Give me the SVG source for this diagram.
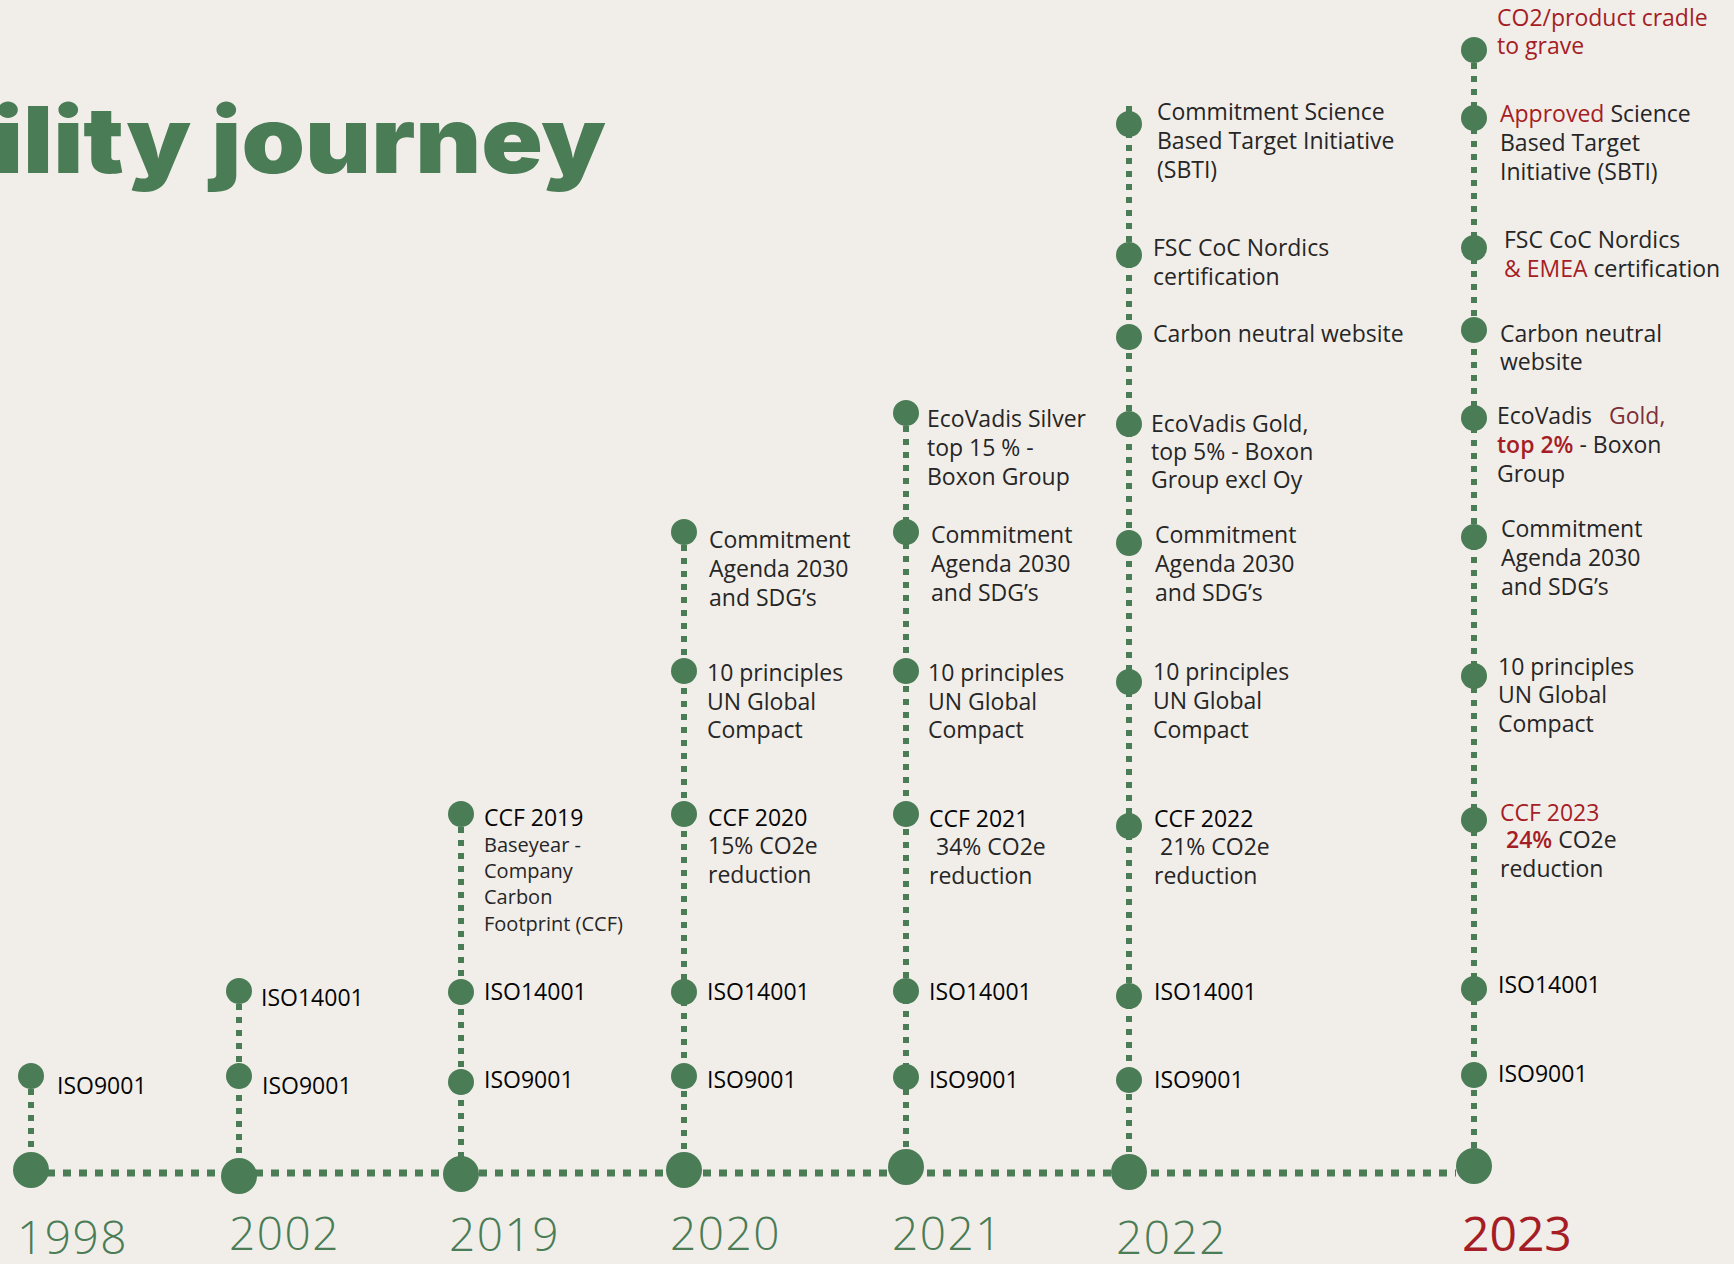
<svg xmlns="http://www.w3.org/2000/svg" width="1734" height="1264" viewBox="0 0 1734 1264">
<style>
.dot{fill:#4A7C55}
.v{stroke:#4A7C55;stroke-width:6;stroke-dasharray:6 7;fill:none}
.h{stroke:#4A7C55;stroke-width:7;stroke-dasharray:8 8;fill:none}
.t{font-family:"Open Sans","Liberation Sans",sans-serif;font-size:23px;font-weight:400;fill:#262626}
.iso{font-weight:400;fill:#050505}
.ccf{font-weight:500;fill:#050505}
.sm{font-size:20px}
.red{fill:#A51D25;font-weight:500}
.b{font-weight:600}
.dred{fill:#7E2F36}
.yr{font-family:"Open Sans","Liberation Sans",sans-serif;font-size:46px;font-weight:300;fill:#4A7C55;letter-spacing:1.5px}
.yred{fill:#A51D25;font-size:48px;font-weight:400;letter-spacing:0}
.title{font-family:Inter,"Liberation Sans",sans-serif;font-weight:900;font-size:92px;fill:#4A7C55}
</style>
<rect width="1734" height="1264" fill="#F1EEEA"/>
<text class="title" x="-7" y="173" textLength="613" lengthAdjust="spacingAndGlyphs">ility journey</text>

<g id="connectors">
<line class="h" x1="31" y1="1173" x2="1456" y2="1173"/>
<line class="v" x1="31" y1="1076" x2="31" y2="1170"/>
<line class="v" x1="239" y1="991" x2="239" y2="1176"/>
<line class="v" x1="461" y1="814" x2="461" y2="1174"/>
<line class="v" x1="684" y1="532" x2="684" y2="1170"/>
<line class="v" x1="906" y1="413" x2="906" y2="1167"/>
<line class="v" x1="1129" y1="106" x2="1129" y2="1172"/>
<line class="v" x1="1474" y1="50" x2="1474" y2="1166"/>
</g>

<g id="y1998">
<circle class="dot" cx="31" cy="1170" r="18"/>
<text class="yr" x="17" y="1254">1998</text>
</g>
<g id="y1998-iso9001"><circle class="dot" cx="31" cy="1076" r="13"/><text class="t iso" x="57" y="1094">ISO9001</text></g>

<g id="y2002">
<circle class="dot" cx="239" cy="1176" r="18"/>
<text class="yr" x="229" y="1250">2002</text>
</g>
<g id="y2002-iso14001"><circle class="dot" cx="239" cy="991" r="13"/><text class="t iso" x="261" y="1006">ISO14001</text></g>
<g id="y2002-iso9001"><circle class="dot" cx="239" cy="1076" r="13"/><text class="t iso" x="262" y="1094">ISO9001</text></g>

<g id="y2019">
<circle class="dot" cx="461" cy="1174" r="18"/>
<text class="yr" x="449" y="1251">2019</text>
</g>
<g id="y2019-ccf"><circle class="dot" cx="461" cy="814" r="13"/>
<text class="t"><tspan class="ccf" x="484" y="826">CCF 2019</tspan><tspan class="sm" x="484" y="852">Baseyear -</tspan><tspan class="sm" x="484" y="878">Company</tspan><tspan class="sm" x="484" y="904">Carbon</tspan><tspan class="sm" x="484" y="931">Footprint (CCF)</tspan></text>
</g>
<g id="y2019-iso14001"><circle class="dot" cx="461" cy="992" r="13"/><text class="t iso" x="484" y="1000">ISO14001</text></g>
<g id="y2019-iso9001"><circle class="dot" cx="461" cy="1082" r="13"/><text class="t iso" x="484" y="1088">ISO9001</text></g>

<g id="y2020">
<circle class="dot" cx="684" cy="1170" r="18"/>
<text class="yr" x="670" y="1250">2020</text>
</g>
<g id="y2020-agenda"><circle class="dot" cx="684" cy="532" r="13"/>
<text class="t"><tspan x="709" y="548">Commitment</tspan><tspan x="709" y="577">Agenda 2030</tspan><tspan x="709" y="606">and SDG’s</tspan></text></g>
<g id="y2020-ungc"><circle class="dot" cx="684" cy="671" r="13"/>
<text class="t"><tspan x="707" y="681">10 principles</tspan><tspan x="707" y="710">UN Global</tspan><tspan x="707" y="738">Compact</tspan></text></g>
<g id="y2020-ccf"><circle class="dot" cx="684" cy="814" r="13"/>
<text class="t"><tspan class="ccf" x="708" y="826">CCF 2020</tspan><tspan x="708" y="854">15% CO2e</tspan><tspan x="708" y="883">reduction</tspan></text></g>
<g id="y2020-iso14001"><circle class="dot" cx="684" cy="992" r="13"/><text class="t iso" x="707" y="1000">ISO14001</text></g>
<g id="y2020-iso9001"><circle class="dot" cx="684" cy="1076" r="13"/><text class="t iso" x="707" y="1088">ISO9001</text></g>

<g id="y2021">
<circle class="dot" cx="906" cy="1167" r="18"/>
<text class="yr" x="892" y="1250">2021</text>
</g>
<g id="y2021-ecovadis"><circle class="dot" cx="906" cy="413" r="13"/>
<text class="t"><tspan x="927" y="427">EcoVadis Silver</tspan><tspan x="927" y="456">top 15 % -</tspan><tspan x="927" y="485">Boxon Group</tspan></text></g>
<g id="y2021-agenda"><circle class="dot" cx="906" cy="532" r="13"/>
<text class="t"><tspan x="931" y="543">Commitment</tspan><tspan x="931" y="572">Agenda 2030</tspan><tspan x="931" y="601">and SDG’s</tspan></text></g>
<g id="y2021-ungc"><circle class="dot" cx="906" cy="671" r="13"/>
<text class="t"><tspan x="928" y="681">10 principles</tspan><tspan x="928" y="710">UN Global</tspan><tspan x="928" y="738">Compact</tspan></text></g>
<g id="y2021-ccf"><circle class="dot" cx="906" cy="814" r="13"/>
<text class="t"><tspan class="ccf" x="929" y="827">CCF 2021</tspan><tspan x="936" y="855">34% CO2e</tspan><tspan x="929" y="884">reduction</tspan></text></g>
<g id="y2021-iso14001"><circle class="dot" cx="906" cy="991" r="13"/><text class="t iso" x="929" y="1000">ISO14001</text></g>
<g id="y2021-iso9001"><circle class="dot" cx="906" cy="1077" r="13"/><text class="t iso" x="929" y="1088">ISO9001</text></g>

<g id="y2022">
<circle class="dot" cx="1129" cy="1172" r="18"/>
<text class="yr" x="1116" y="1254">2022</text>
</g>
<g id="y2022-sbti"><circle class="dot" cx="1129" cy="124" r="13"/>
<text class="t"><tspan x="1157" y="120">Commitment Science</tspan><tspan x="1157" y="149">Based Target Initiative</tspan><tspan x="1157" y="178">(SBTI)</tspan></text></g>
<g id="y2022-fsc"><circle class="dot" cx="1129" cy="255" r="13"/>
<text class="t"><tspan x="1153" y="256">FSC CoC Nordics</tspan><tspan x="1153" y="285">certification</tspan></text></g>
<g id="y2022-web"><circle class="dot" cx="1129" cy="337" r="13"/>
<text class="t" x="1153" y="342">Carbon neutral website</text></g>
<g id="y2022-ecovadis"><circle class="dot" cx="1129" cy="424" r="13"/>
<text class="t"><tspan x="1151" y="432">EcoVadis Gold,</tspan><tspan x="1151" y="460">top 5% - Boxon</tspan><tspan x="1151" y="488">Group excl Oy</tspan></text></g>
<g id="y2022-agenda"><circle class="dot" cx="1129" cy="543" r="13"/>
<text class="t"><tspan x="1155" y="543">Commitment</tspan><tspan x="1155" y="572">Agenda 2030</tspan><tspan x="1155" y="601">and SDG’s</tspan></text></g>
<g id="y2022-ungc"><circle class="dot" cx="1129" cy="682" r="13"/>
<text class="t"><tspan x="1153" y="680">10 principles</tspan><tspan x="1153" y="709">UN Global</tspan><tspan x="1153" y="738">Compact</tspan></text></g>
<g id="y2022-ccf"><circle class="dot" cx="1129" cy="826" r="13"/>
<text class="t"><tspan class="ccf" x="1154" y="827">CCF 2022</tspan><tspan x="1160" y="855">21% CO2e</tspan><tspan x="1154" y="884">reduction</tspan></text></g>
<g id="y2022-iso14001"><circle class="dot" cx="1129" cy="996" r="13"/><text class="t iso" x="1154" y="1000">ISO14001</text></g>
<g id="y2022-iso9001"><circle class="dot" cx="1129" cy="1080" r="13"/><text class="t iso" x="1154" y="1088">ISO9001</text></g>

<g id="y2023">
<circle class="dot" cx="1474" cy="1166" r="18"/>
<text class="yr yred" x="1462" y="1251">2023</text>
</g>
<g id="y2023-co2"><circle class="dot" cx="1474" cy="50" r="13"/>
<text class="t red"><tspan x="1497" y="26">CO2/product cradle</tspan><tspan x="1497" y="54">to grave</tspan></text></g>
<g id="y2023-sbti"><circle class="dot" cx="1474" cy="118" r="13"/>
<text class="t"><tspan x="1500" y="122"><tspan class="red">Approved</tspan> Science</tspan><tspan x="1500" y="151">Based Target</tspan><tspan x="1500" y="180">Initiative (SBTI)</tspan></text></g>
<g id="y2023-fsc"><circle class="dot" cx="1474" cy="248" r="13"/>
<text class="t"><tspan x="1504" y="248">FSC CoC Nordics</tspan><tspan x="1504" y="277"><tspan class="red">&amp; EMEA</tspan> certification</tspan></text></g>
<g id="y2023-web"><circle class="dot" cx="1474" cy="330" r="13"/>
<text class="t"><tspan x="1500" y="342">Carbon neutral</tspan><tspan x="1500" y="370">website</tspan></text></g>
<g id="y2023-ecovadis"><circle class="dot" cx="1474" cy="418" r="13"/>
<text class="t"><tspan x="1497" y="424">EcoVadis</tspan><tspan class="dred" x="1609" y="424">Gold,</tspan><tspan x="1497" y="453"><tspan class="red b">top 2%</tspan> - Boxon</tspan><tspan x="1497" y="482">Group</tspan></text></g>
<g id="y2023-agenda"><circle class="dot" cx="1474" cy="537" r="13"/>
<text class="t"><tspan x="1501" y="537">Commitment</tspan><tspan x="1501" y="566">Agenda 2030</tspan><tspan x="1501" y="595">and SDG’s</tspan></text></g>
<g id="y2023-ungc"><circle class="dot" cx="1474" cy="676" r="13"/>
<text class="t"><tspan x="1498" y="675">10 principles</tspan><tspan x="1498" y="703">UN Global</tspan><tspan x="1498" y="732">Compact</tspan></text></g>
<g id="y2023-ccf"><circle class="dot" cx="1474" cy="820" r="13"/>
<text class="t"><tspan class="red" x="1500" y="821">CCF 2023</tspan><tspan x="1506" y="848"><tspan class="red b">24%</tspan> CO2e</tspan><tspan x="1500" y="877">reduction</tspan></text></g>
<g id="y2023-iso14001"><circle class="dot" cx="1474" cy="989" r="13"/><text class="t iso" x="1498" y="993">ISO14001</text></g>
<g id="y2023-iso9001"><circle class="dot" cx="1474" cy="1075" r="13"/><text class="t iso" x="1498" y="1082">ISO9001</text></g>
</svg>
